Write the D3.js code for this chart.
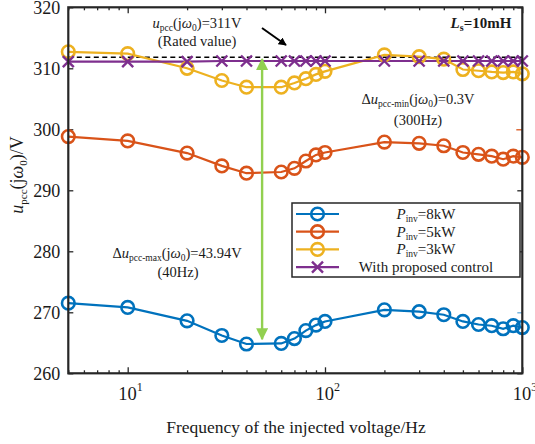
<!DOCTYPE html>
<html>
<head>
<meta charset="utf-8">
<script src="https://cdn.jsdelivr.net/npm/d3@7"></script>
<style>
  body { margin: 0; background: #fff; }
  text { font-family: "Liberation Serif", "Times New Roman", serif; fill: #1a1a1a; }
</style>
</head>
<body>
<div id="container"></div>
<script>
/* DATA */
const freqs = [5, 10, 20, 30, 40, 60, 70, 80, 90, 100, 200, 300, 400, 500, 600, 700, 800, 900, 1000];
const p8kW = [271.5, 270.8, 268.6, 266.2, 264.8, 264.9, 265.7, 267.0, 267.9, 268.5, 270.4, 270.1, 269.6, 268.5, 268.0, 267.8, 267.3, 267.8, 267.5];
const p5kW = [298.8, 298.1, 296.1, 294.0, 292.8, 293.0, 293.6, 294.8, 295.8, 296.2, 297.9, 297.7, 297.3, 296.2, 295.9, 295.6, 295.1, 295.6, 295.4];
const p3kW = [312.7, 312.4, 310.0, 308.0, 306.9, 306.9, 307.6, 308.3, 309.0, 309.5, 312.2, 311.9, 311.5, 309.8, 309.6, 309.4, 309.3, 309.4, 309.1];
const proposed = [311.1, 311.1, 311.1, 311.2, 311.2, 311.2, 311.2, 311.2, 311.2, 311.2, 311.2, 311.2, 311.2, 311.2, 311.2, 311.2, 311.2, 311.2, 311.2];
const ratedLine = 311.8;
const arrowFreq = 48, arrowTop = 311.5, arrowBottom = 265.6;
const yTicks = [260, 270, 280, 290, 300, 310, 320];
const xDecades = [10, 100, 1000];
const series = [
  {name: "8kW", values: p8kW, color: "#0072BD", marker: "circle"},
  {name: "5kW", values: p5kW, color: "#D95319", marker: "circle"},
  {name: "3kW", values: p3kW, color: "#EDB120", marker: "circle"},
  {name: "With proposed control", values: proposed, color: "#7E2F8E", marker: "cross"}
];

/* SIZES */
const W = 535, H = 444;
const pL = 68.3, pR = 522.3, pT = 7.3, pB = 373.3;

const svg = d3.select("#container").append("svg")
  .attr("width", W).attr("height", H);

svg.append("defs").html(`
  <marker id="gh" viewBox="0 0 10 10" refX="9" refY="5" markerWidth="5" markerHeight="5" orient="auto-start-reverse">
    <path d="M0,0 L10,5 L0,10 z" fill="#92D050"/></marker>
  <marker id="bh" viewBox="0 0 10 10" refX="9" refY="5" markerWidth="4" markerHeight="4" orient="auto">
    <path d="M0,0 L10,5 L0,10 z" fill="#000"/></marker>
  <clipPath id="clip"><rect x="${pL}" y="${pT}" width="${pR-pL}" height="${pB-pT}"/></clipPath>`);

// SCALES
const x = d3.scaleLog().domain([5, 1000]).range([pL, pR]);
const y = d3.scaleLinear().domain([260, 320]).range([pB, pT]);

const minor = [];
for (const d of [1, 10, 100]) for (let k = 1; k <= 9; k++) { const v = d * k; if (v >= 5 && v <= 1000) minor.push(v); }
minor.push(1000);

// AXES (ticks inward)
svg.append("g").attr("transform", `translate(0,${pB})`)
  .call(d3.axisTop(x).tickValues(minor).tickSize(3).tickFormat(""))
  .call(g => g.selectAll(".tick line").filter(d => xDecades.includes(d)).attr("y2", -6));
svg.append("g").attr("transform", `translate(0,${pT})`)
  .call(d3.axisBottom(x).tickValues(minor).tickSize(3).tickFormat(""))
  .call(g => g.selectAll(".tick line").filter(d => xDecades.includes(d)).attr("y2", 6));
svg.append("g").attr("transform", `translate(${pL},0)`)
  .call(d3.axisRight(y).tickValues(yTicks).tickSize(5).tickFormat(""));
const rightAxis = svg.append("g").attr("transform", `translate(${pR},0)`)
  .call(d3.axisLeft(y).tickValues(yTicks).tickSize(5).tickFormat(""));
svg.selectAll(".domain").remove();
svg.selectAll(".tick line").attr("stroke", "#262626").attr("stroke-width", 1.3);
// the right-hand ticks at 270 and 300 come out in the series colours
rightAxis.selectAll(".tick line").filter(d => d === 300).attr("stroke", "#D95319").attr("x2", -6);
rightAxis.selectAll(".tick line").filter(d => d === 270).attr("stroke", "#0072BD").attr("opacity", 0.6);

// y tick labels
svg.selectAll(".ylab").data(yTicks).join("text")
  .attr("x", pL - 8).attr("y", d => y(d) + 7)
  .attr("text-anchor", "end").attr("font-size", 18).text(d => d);

// x tick labels 10^n
xDecades.forEach(d => {
  const t = svg.append("text").attr("x", x(d) - 9.5).attr("y", pB + 27)
    .attr("text-anchor", "start").attr("font-size", 18.5);
  t.append("tspan").text("10");
  t.append("tspan").attr("dy", -9).attr("font-size", 12).text(Math.log10(d));
});

// axis titles
svg.append("text").attr("x", 296).attr("y", 433).attr("text-anchor", "middle")
  .attr("font-size", 17.5).text("Frequency of the injected voltage/Hz");
const yl = svg.append("text").attr("transform", `translate(23,175) rotate(-90)`)
  .attr("text-anchor", "middle").attr("font-size", 18);
yl.append("tspan").attr("font-style", "italic").text("u");
yl.append("tspan").attr("font-size", 11).attr("dy", 4).text("pcc");
yl.append("tspan").attr("dy", -4).text("(j");
yl.append("tspan").attr("font-style", "italic").text("ω");
yl.append("tspan").attr("font-size", 11).attr("dy", 4).text("0");
yl.append("tspan").attr("dy", -4).text(")/V");

// rated value dashed line
svg.append("line").attr("x1", pL).attr("x2", pR)
  .attr("y1", y(ratedLine)).attr("y2", y(ratedLine))
  .attr("stroke", "#000").attr("stroke-width", 1.6).attr("stroke-dasharray", "5,3.5");

// SERIES
const plot = svg.append("g").attr("clip-path", "url(#clip)");
const line = d3.line().x((d, i) => x(freqs[i])).y(d => y(d));
series.forEach(s => {
  plot.append("path").datum(s.values)
    .attr("fill", "none").attr("stroke", s.color).attr("stroke-width", 2.2)
    .attr("d", line);
  const g = svg.append("g");
  s.values.forEach((v, i) => drawMarker(g, x(freqs[i]), y(v), s));
});

function drawMarker(g, cx, cy, s) {
  if (s.marker === "circle") {
    g.append("circle").attr("cx", cx).attr("cy", cy).attr("r", 6.3)
      .attr("fill", "none").attr("stroke", s.color).attr("stroke-width", 2.6);
  } else {
    const r = 5.5;
    g.append("path").attr("d", `M${cx-r},${cy-r}L${cx+r},${cy+r}M${cx-r},${cy+r}L${cx+r},${cy-r}`)
      .attr("stroke", s.color).attr("stroke-width", 2.4);
  }
}

// green double arrow
svg.append("line").attr("x1", x(arrowFreq)).attr("x2", x(arrowFreq))
  .attr("y1", y(arrowTop)).attr("y2", y(arrowBottom))
  .attr("stroke", "#92D050").attr("stroke-width", 2.4)
  .attr("marker-start", "url(#gh)").attr("marker-end", "url(#gh)");

// black arrow to rated line
svg.append("line").attr("x1", 262).attr("y1", 28).attr("x2", 286).attr("y2", 45)
  .attr("stroke", "#000").attr("stroke-width", 2).attr("marker-end", "url(#bh)");

// FRAME
svg.append("rect").attr("x", pL).attr("y", pT).attr("width", pR - pL).attr("height", pB - pT)
  .attr("fill", "none").attr("stroke", "#262626").attr("stroke-width", 2.2);

// ANNOTATIONS
function sym(t, parts) {
  parts.forEach(p => {
    const s = t.append("tspan").text(p.t);
    if (p.i) s.attr("font-style", "italic");
    if (p.b) s.attr("font-weight", "bold");
    if (p.sub) s.attr("font-size", p.fs || 9.5).attr("dy", 3);
    if (p.up) s.attr("dy", -3);
  });
}
const fs = 14.5;
sym(svg.append("text").attr("x", 197).attr("y", 28).attr("text-anchor", "middle").attr("font-size", fs),
  [{t: "u", i: 1}, {t: "pcc", sub: 1}, {t: "(j", up: 1}, {t: "ω", i: 1}, {t: "0", sub: 1}, {t: ")=311V", up: 1}]);
svg.append("text").attr("x", 197).attr("y", 46).attr("text-anchor", "middle").attr("font-size", fs).text("(Rated value)");

sym(svg.append("text").attr("x", 481).attr("y", 28).attr("text-anchor", "middle").attr("font-size", 15).attr("font-weight", "bold"),
  [{t: "L", i: 1, b: 1}, {t: "s", sub: 1, fs: 10}, {t: "=10mH", up: 1, b: 1}]);

sym(svg.append("text").attr("x", 418).attr("y", 104).attr("text-anchor", "middle").attr("font-size", fs),
  [{t: "Δ"}, {t: "u", i: 1}, {t: "pcc-min", sub: 1}, {t: "(j", up: 1}, {t: "ω", i: 1}, {t: "0", sub: 1}, {t: ")=0.3V", up: 1}]);
svg.append("text").attr("x", 418).attr("y", 125).attr("text-anchor", "middle").attr("font-size", fs).text("(300Hz)");

sym(svg.append("text").attr("x", 177).attr("y", 258).attr("text-anchor", "middle").attr("font-size", fs),
  [{t: "Δ"}, {t: "u", i: 1}, {t: "pcc-max", sub: 1}, {t: "(j", up: 1}, {t: "ω", i: 1}, {t: "0", sub: 1}, {t: ")=43.94V", up: 1}]);
svg.append("text").attr("x", 178).attr("y", 277).attr("text-anchor", "middle").attr("font-size", fs).text("(40Hz)");

// LEGEND
const lg = svg.append("g");
lg.append("rect").attr("x", 292).attr("y", 203).attr("width", 228).attr("height", 74)
  .attr("fill", "#fff").attr("stroke", "#262626").attr("stroke-width", 1.5);
series.forEach((s, i) => {
  const ly = 214 + i * 17.7;
  lg.append("line").attr("x1", 296).attr("x2", 339).attr("y1", ly).attr("y2", ly)
    .attr("stroke", s.color).attr("stroke-width", 2.2);
  drawMarker(lg, 317.5, ly, s);
  const t = lg.append("text").attr("x", 426).attr("y", ly + 5).attr("text-anchor", "middle").attr("font-size", 15);
  if (s.marker === "cross") t.text(s.name);
  else sym(t, [{t: "P", i: 1}, {t: "inv", sub: 1}, {t: "=" + s.name, up: 1}]);
});
</script>
</body>
</html>
